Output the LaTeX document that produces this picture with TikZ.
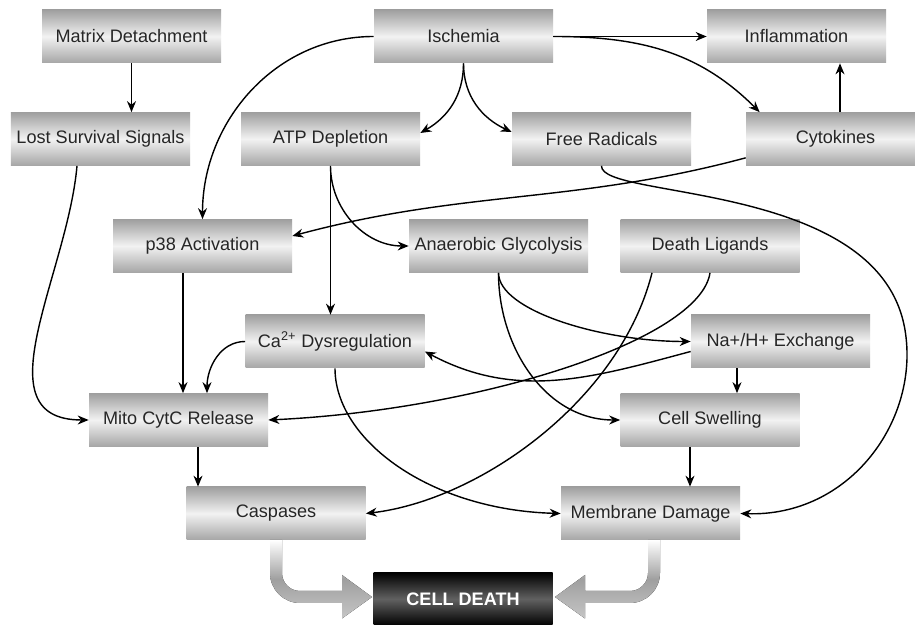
\documentclass[tikz,border=0pt]{standalone}
\usepackage{fontspec}
\setmainfont{Liberation Sans}
\usetikzlibrary{arrows.meta}

\begin{document}
\begin{tikzpicture}[
	>={Stealth[length=2.2mm,width=1.8mm]},
	block/.style={rectangle, inner sep=0pt, minimum width=3.58cm, minimum height=1.06cm,
		top color=gray!75, bottom color=gray!70, middle color=gray!10,
		text=black!85, font=\fontsize{10.3}{12}\selectfont},
	link/.style={->, line width=0.8pt},
	bigarrow/.style={top color=white, bottom color=gray!45, middle color=gray!75}
]
	%\draw[help lines] (0,0) grid (18,12);
	\useasboundingbox (0,0) rectangle (18.3,12.5);
	\clip (0,0) rectangle (18.3,12.5);
	\fill[white] (0,0) rectangle (18.3,12.5);

	\node[block] (matdet) at (2.63,11.77) {Matrix Detachment};
	\node[block] (isch) at (9.27,11.77) {Ischemia};
	\node[block] (infl) at (15.93,11.77) {Inflammation};
	\node[block] (lss) at (2.01,9.72) {Lost Survival Signals};
	\node[block] (atp) at (6.61,9.72) {ATP Depletion};
	\node[block] (fr) at (12.03,9.72) {Free Radicals};
	\node[block] (cyto) at (16.71,9.72) {Cytokines};
	\node[block] (p38) at (4.05,7.58) {p38 Activation};
	\node[block] (ag) at (9.97,7.58) {Anaerobic Glycolysis};
	\node[block] (dl) at (14.2,7.58) {Death Ligands};
	\node[block] (ca) at (6.7,5.67) {Ca\textsuperscript{2+} Dysregulation};
	\node[block] (nah) at (15.61,5.67) {Na+/H+ Exchange};
	\node[block] (mito) at (3.57,4.1) {Mito CytC Release};
	\node[block] (cs) at (14.2,4.1) {Cell Swelling};
	\node[block] (casp) at (5.52,2.23) {Caspases};
	\node[block] (memd) at (13.01,2.23) {Membrane Damage};
	\node[block, top color=black, bottom color=black, middle color=black!62,
		text=white, font=\fontsize{10.3}{12}\selectfont\bfseries] (cd) at (9.26,0.52) {CELL DEATH};

	% straight links
	\draw[link] (matdet.south) -- (matdet.south |- lss.north);
	\draw[link] (isch.east) -- (infl.west);
	\draw[link] (16.8,0 |- cyto.north) -- (16.8,0 |- infl.south);
	\draw[link] (atp.south) -- (atp.south |- ca.north);
	\draw[link] (3.66,0 |- p38.south) -- (3.66,0 |- mito.north);
	\draw[link] (3.96,0 |- mito.south) -- (3.96,0 |- casp.north);
	\draw[link] (14.74,0 |- nah.south) -- (14.74,0 |- cs.north);
	\draw[link] (13.8,0 |- cs.south) -- (13.8,0 |- memd.north);

	% curved links
	\draw[link] (isch.west) to[out=180,in=90] (p38.north);
	\draw[link] (isch.south) to[out=-90,in=30] ([yshift=0.12cm]atp.east);
	\draw[link] (isch.south) to[out=-90,in=155] ([yshift=0.14cm]fr.west);
	\draw[link] (isch.east) to[out=0,in=135] ([xshift=0.28cm]cyto.north west);
	\draw[link] ([yshift=0.16cm]cyto.south west) to[out=195,in=15] ([yshift=0.2cm]p38.east);
	\draw[link] (fr.south) .. controls (12.0,8.5) and (17.6,8.9) .. (18.1,5.9)
		.. controls (18.4,4.1) and (17.0,2.16) .. (memd.east);
	\draw[link] (1.54,0 |- lss.south) to[out=-95,in=180,looseness=1.1] (mito.west);
	\draw[link] (atp.south) to[out=-90,in=180] (ag.west);
	\draw[link] (ag.south) to[out=-90,in=180,out distance=0.75cm,in distance=1.8cm] (nah.west);
	\draw[link] (ag.south) to[out=-90,in=180] (cs.west);
	\draw[link] ([yshift=-0.2cm]nah.west) to[out=195,in=-28] ([yshift=-0.2cm]ca.east);
	\draw[link] (ca.west) to[out=180,in=90] (4.14,0 |- mito.north);
	\draw[link] (dl.south) .. controls (14.0,5.7) and (9.6,4.3) .. (mito.east);
	\draw[link] ([xshift=-1.16cm]dl.south) .. controls (12.4,4.5) and (9.6,2.5) .. (casp.east);
	\draw[link] (ca.south) .. controls (6.7,3.7) and (8.6,2.3) .. (memd.west);

	% big arrows into cell death
	\fill[bigarrow] (5.4,1.7) -- (5.4,1.04) arc[start angle=180,end angle=270,radius=0.6]
		-- (6.84,0.44) -- (6.84,0.13) -- (7.44,0.56) -- (6.84,1.0) -- (6.84,0.68)
		-- (6.0,0.68) arc[start angle=270,end angle=180,radius=0.36] -- (5.64,1.7) -- cycle;
	\fill[bigarrow] (13.2,1.7) -- (13.2,1.04) arc[start angle=0,end angle=-90,radius=0.6]
		-- (11.7,0.44) -- (11.7,0.13) -- (11.1,0.56) -- (11.7,1.0) -- (11.7,0.68)
		-- (12.6,0.68) arc[start angle=-90,end angle=0,radius=0.36] -- (12.96,1.7) -- cycle;
\end{tikzpicture}
\end{document}
